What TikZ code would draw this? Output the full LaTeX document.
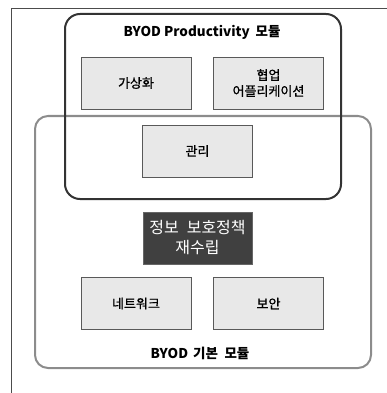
\documentclass[tikz,border=0pt]{standalone}
\usepackage{fontspec}
\setmainfont{Noto Sans CJK KR}
\begin{document}
\begin{tikzpicture}[x=1pt,y=-1pt,
  item/.style={draw=black!65,fill=black!9,line width=0.7pt,minimum width=110pt,minimum height=52pt,inner sep=0pt,align=center,font=\fontsize{13}{16}\selectfont\addfontfeature{FakeBold=0.8}},
  dark/.style={draw=black!60,fill=black!75,text=white,line width=0.7pt,minimum width=109pt,minimum height=52pt,inner sep=0pt,align=center,font=\fontsize{16}{20}\selectfont},
  title/.style={font=\fontsize{13.5}{15}\selectfont\bfseries}]
\useasboundingbox (0,0) rectangle (387,393);
\draw[black!70,line width=0.6pt] (11.5,393) -- (11.5,8) -- (387,8);
\draw[black!45,line width=2pt,rounded corners=13pt] (35,116) rectangle (371,368);
\draw[black!80,line width=2pt,rounded corners=15pt] (65,14) rectangle (341,199);
\node[title] (t1) at (202,32) {BYOD Productivity\hspace{0.2em} 모듈};
\node[item] (a) at (136,83) {가상화};
\node[item] (b) at (268.5,83) {협업\\어플리케이션};
\node[item] (c) at (197.5,151) {관리};
\node[dark] (d) at (197.5,238) {정보\hspace{0.5em}보호정책\\재수립};
\node[item] (e) at (136,303.5) {네트워크};
\node[item] (f) at (268.5,303.5) {보안};
\node[title] (t2) at (200,353) {BYOD\hspace{0.15em} 기본\hspace{0.25em} 모듈};
\end{tikzpicture}
\end{document}
